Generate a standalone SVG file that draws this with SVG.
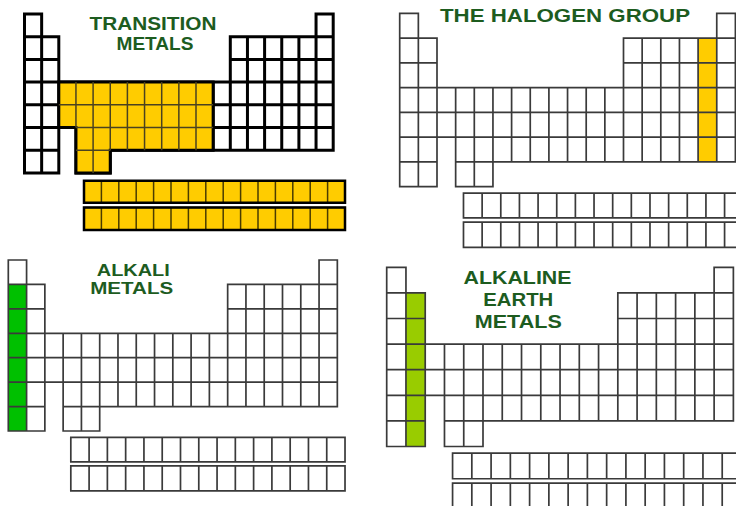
<svg xmlns="http://www.w3.org/2000/svg" xmlns:xlink="http://www.w3.org/1999/xlink" width="736" height="506" viewBox="0 0 736 506">
<style>
.ns{vector-effect:non-scaling-stroke;}
.thin{fill:none;stroke:#3a3a3a;stroke-width:1.7;stroke-linecap:square;}
.thick{fill:none;stroke:#000;stroke-width:3;stroke-linecap:square;}
.lbl{font-family:"Liberation Sans","DejaVu Sans",sans-serif;font-weight:bold;font-size:19px;fill:#1d5c1f;text-anchor:middle;}
.sm{font-size:16px;}
</style>
<defs>
<path id="grid" class="ns" d="M0 0H1M17 0H18M0 1H2M12 1H18M0 2H2M12 2H18M0 3H18M0 4H18M0 5H18M0 6H2M3 6H18M0 7H2M3 7H5M0 0V7M1 0V7M2 1V7M3 3V7M4 3V7M5 3V7M6 3V6M7 3V6M8 3V6M9 3V6M10 3V6M11 3V6M12 1V6M13 1V6M14 1V6M15 1V6M16 1V6M17 0V6M18 0V6"/>
<path id="frow" class="ns" d="M0 0H15V1H0ZM1 0V1M2 0V1M3 0V1M4 0V1M5 0V1M6 0V1M7 0V1M8 0V1M9 0V1M10 0V1M11 0V1M12 0V1M13 0V1M14 0V1"/>
</defs>
<rect width="736" height="506" fill="#fff"/>

<g id="transition-metals">
  <g transform="translate(24.5 14) scale(17.15 22.7)">
    <use href="#grid" class="thick"/>
    <path class="ns" d="M2 3H11V6H5V7H3V5H2Z" fill="#ffcc00" stroke="#000" stroke-width="3" stroke-linejoin="miter"/>
    <path class="ns" d="M2 4H11M3 5H11M3 6H5M3 3V5M4 3V7M5 3V6M6 3V6M7 3V6M8 3V6M9 3V6M10 3V6" fill="none" stroke="#4a4220" stroke-width="1.5"/>
  </g>
  <g transform="translate(84 180.7) scale(17.4 22)">
    <use href="#frow" fill="#ffcc00" stroke="#4a3c00" stroke-width="1.5"/>
    <rect class="ns" width="15" height="1" fill="none" stroke="#000" stroke-width="2.5"/>
  </g>
  <g transform="translate(84 207.5) scale(17.4 22.5)">
    <use href="#frow" fill="#ffcc00" stroke="#4a3c00" stroke-width="1.5"/>
    <rect class="ns" width="15" height="1" fill="none" stroke="#000" stroke-width="2.5"/>
  </g>
  <text class="lbl" x="153" y="30" textLength="127" lengthAdjust="spacingAndGlyphs">TRANSITION</text>
  <text class="lbl" x="155" y="50" textLength="77" lengthAdjust="spacingAndGlyphs">METALS</text>
</g>

<g id="halogen-group">
  <g transform="translate(399.7 13.3) scale(18.65 24.77)">
    <rect x="16" y="1" width="1" height="5" fill="#ffcc00"/>
    <use href="#grid" class="thin"/>
    <use href="#frow" class="thin" transform="translate(3.42 7.26)"/>
    <use href="#frow" class="thin" transform="translate(3.42 8.43) scale(1 1.02)"/>
  </g>
  <text class="lbl" x="565" y="21.5" textLength="250" lengthAdjust="spacingAndGlyphs">THE HALOGEN GROUP</text>
</g>

<g id="alkali-metals">
  <g transform="translate(8.3 260) scale(18.28 24.43)">
    <rect x="0" y="1" width="1" height="6" fill="#00c000"/>
    <use href="#grid" class="thin"/>
    <use href="#frow" class="thin" transform="translate(3.42 7.26)"/>
    <use href="#frow" class="thin" transform="translate(3.42 8.43) scale(1 1.02)"/>
  </g>
  <text class="lbl sm" x="133.3" y="275.5" textLength="73" lengthAdjust="spacingAndGlyphs">ALKALI</text>
  <text class="lbl sm" x="131.7" y="294" textLength="83" lengthAdjust="spacingAndGlyphs">METALS</text>
</g>

<g id="alkaline-earth-metals">
  <g transform="translate(386.7 267.3) scale(19.26 25.6)">
    <rect x="1" y="1" width="1" height="6" fill="#99cc00"/>
    <use href="#grid" class="thin"/>
    <use href="#frow" class="thin" transform="translate(3.42 7.26)"/>
    <use href="#frow" class="thin" transform="translate(3.42 8.43) scale(1 1.02)"/>
  </g>
  <text class="lbl" x="517.5" y="284" textLength="108" lengthAdjust="spacingAndGlyphs">ALKALINE</text>
  <text class="lbl" x="518.3" y="305.5" textLength="70" lengthAdjust="spacingAndGlyphs">EARTH</text>
  <text class="lbl" x="518.3" y="327.5" textLength="87" lengthAdjust="spacingAndGlyphs">METALS</text>
</g>
</svg>
